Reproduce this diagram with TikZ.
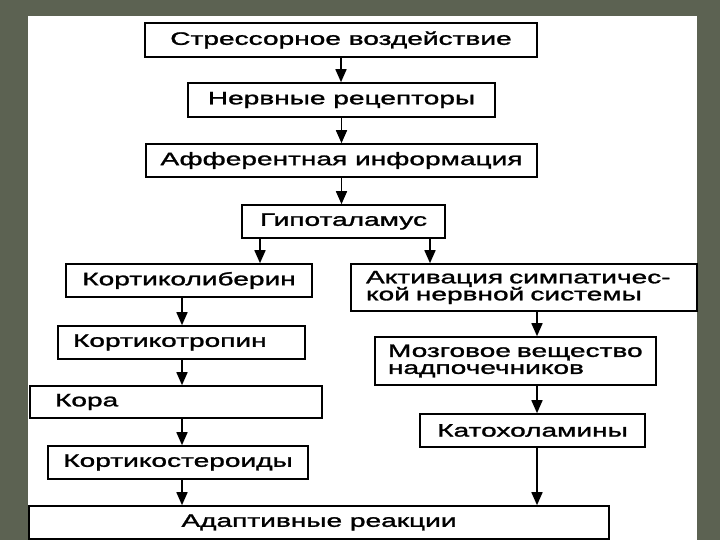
\documentclass[tikz,border=0pt]{standalone}
\usepackage{fontspec}
\setmainfont{Liberation Sans}[FakeStretch=1.56,FakeBold=1.5]
\usepackage{tikz}
\usetikzlibrary{arrows.meta}
\definecolor{bgolive}{RGB}{92,98,82}

\tikzset{
    blk/.style={rectangle, draw, line width=1.6bp, inner sep=0pt,
        font=\fontsize{18bp}{17bp}\selectfont},
    lblk/.style={blk, align=left},
    arr/.style={line width=1.6bp, -{Triangle[length=13bp,width=11bp]}}
}

\begin{document}
\begin{tikzpicture}[x=1bp,y=-1bp]

    \fill[bgolive] (0,0) rectangle (720,540);
    \fill[white] (28,16) rectangle (697,540);
    \useasboundingbox (0,0) rectangle (720,540);

    % main column
    \node[blk, minimum width=392bp, minimum height=34bp] (stress) at (341,40) {Стрессорное воздействие};
    \node[blk, minimum width=307bp, minimum height=34bp] (recep) at (341.5,100) {Нервные рецепторы};
    \node[blk, minimum width=391bp, minimum height=33bp] (affer) at (341.5,160.5) {Афферентная информация};
    \node[blk, minimum width=203bp, minimum height=33bp] (hypo) at (343.5,221.5) {Гипоталамус};

    % left branch
    \node[blk, minimum width=246bp, minimum height=33bp] (corlib) at (189,280.5) {Кортиколиберин};
    \node[lblk, inner xsep=15bp, text width=217bp, minimum height=33bp] (cortrop) at (181.5,342.5) {Кортикотропин};
    \node[lblk, inner xsep=25bp, text width=242bp, minimum height=32bp] (cortex) at (176,402) {Кора};
    \node[blk, minimum width=260bp, minimum height=33bp] (corster) at (178,462.5) {Кортикостероиды};

    % right branch
    \node[lblk, inner xsep=15bp, text width=316bp, minimum height=47bp] (sympath) at (524,287.5) {Активация симпатичес-\\кой нервной системы};
    \node[lblk, inner xsep=13bp, text width=255bp, minimum height=48bp] (medulla) at (515.5,361) {Мозговое вещество\\надпочечников};
    \node[blk, minimum width=225bp, minimum height=33bp] (catech) at (532.5,430.5) {Катохоламины};

    \node[blk, minimum width=580bp, minimum height=33bp] (adapt) at (319,522.5) {Адаптивные реакции};

    \coordinate (hl) at (260,0);
    \coordinate (hr) at (430,0);
    \coordinate (lc) at (182,0);
    \coordinate (rc) at (537,0);

    \foreach \a/\b in {stress/recep, recep/affer, affer/hypo}
        \draw[arr] (\a.south) -- (\a.south |- \b.north);
    \draw[arr] (hypo.south -| hl) -- (corlib.north -| hl);
    \draw[arr] (hypo.south -| hr) -- (sympath.north -| hr);
    \foreach \a/\b in {corlib/cortrop, cortrop/cortex, cortex/corster, corster/adapt}
        \draw[arr] (\a.south -| lc) -- (\b.north -| lc);
    \foreach \a/\b in {sympath/medulla, medulla/catech, catech/adapt}
        \draw[arr] (\a.south -| rc) -- (\b.north -| rc);

\end{tikzpicture}
\end{document}
